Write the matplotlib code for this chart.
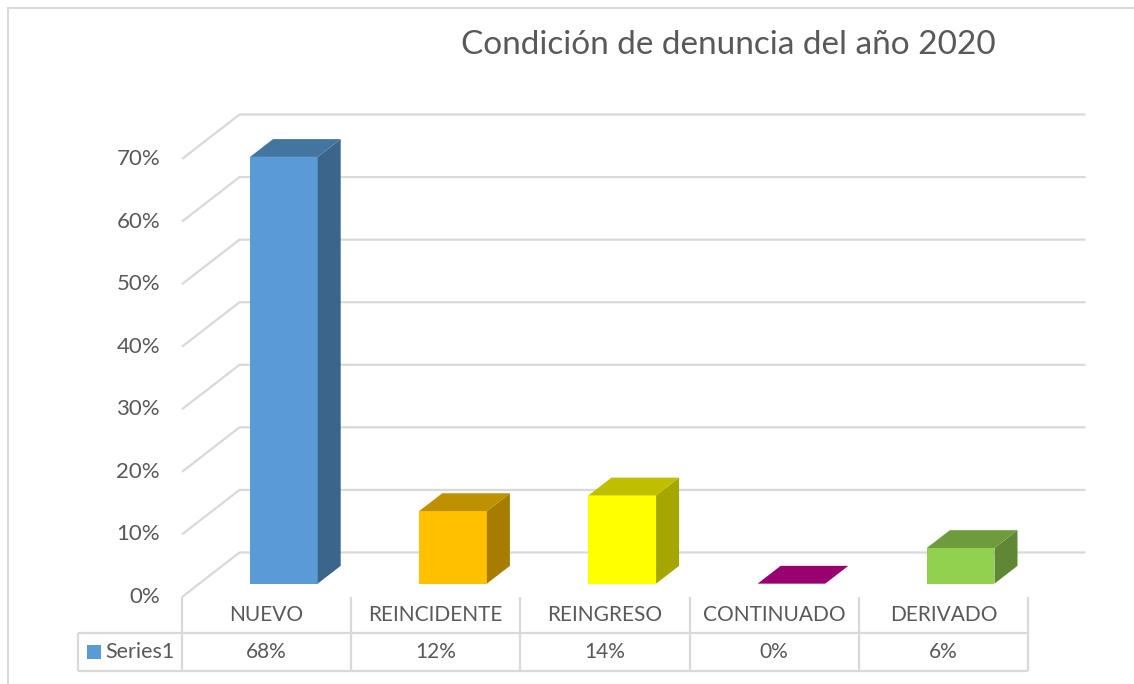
import matplotlib.pyplot as plt
from matplotlib.patches import Polygon, Rectangle
from matplotlib.lines import Line2D
import matplotlib.colors as mcolors

title = "Condición de denuncia del año 2020"
series_name = "Series1"
categories = ["NUEVO", "REINCIDENTE", "REINGRESO", "CONTINUADO", "DERIVADO"]
values = [0.682, 0.116, 0.141, 0.0, 0.057]
bar_colors = ["#5B9BD5", "#FFC000", "#FFFF00", "#CC0095", "#92D050"]
y_ticks = [0.0, 0.1, 0.2, 0.3, 0.4, 0.5, 0.6, 0.7]

plt.rcParams['font.family'] = ['Lato', 'DejaVu Sans']
txt_color = "#595959"
grid_color = "#D9D9D9"

W, H = 1134, 684
fig = plt.figure(figsize=(W / 100, H / 100), dpi=100)
# front plane of the chart: x 182..1028 px, y 597..159 px
ax = fig.add_axes([182 / W, (H - 597) / H, 846 / W, 438 / H])
ax.set_xlim(-0.5, len(categories) - 0.5)
ax.set_ylim(0, 0.7)
ax.axis('off')

px_x = 846 / len(categories)   # px per category
px_y = 438 / 0.7               # px per unit of value
dep_x = 57.5 / px_x            # full depth offset, data units
dep_y = 44.5 / px_y


def shade(c, f):
    r, g, b = mcolors.to_rgb(c)
    return (r * f, g * f, b * f)


# outer chart border (top and left visible)
fig.add_artist(Line2D([8 / W, 1], [1 - 8 / H, 1 - 8 / H], color=grid_color, lw=1.5))
fig.add_artist(Line2D([8 / W, 8 / W], [0, 1 - 8 / H], color=grid_color, lw=1.5))

# gridlines: left wall diagonals + back wall horizontals
x0 = -0.5
x1 = len(categories) - 0.5
for v in y_ticks:
    ax.plot([x0, x0 + dep_x, x1 + dep_x], [v, v + dep_y, v + dep_y],
            color=grid_color, lw=1.6, clip_on=False, zorder=1, solid_capstyle='butt')
    ax.text(x0 - 22 / px_x, v, f"{v:.0%}", ha='right', va='center',
            fontsize=16, color=txt_color)

# 3D-looking columns
bw = 0.40
f0, f1 = 0.3, 0.7   # depth fraction of front/back face
for i, (v, c) in enumerate(zip(values, bar_colors)):
    xl = i - bw / 2 + f0 * dep_x
    xr = i + bw / 2 + f0 * dep_x
    yb = f0 * dep_y
    yt = v + f0 * dep_y
    ddx = (f1 - f0) * dep_x
    ddy = (f1 - f0) * dep_y
    front = [(xl, yb), (xr, yb), (xr, yt), (xl, yt)]
    side = [(xr, yb), (xr + ddx, yb + ddy), (xr + ddx, yt + ddy), (xr, yt)]
    top = [(xl, yt), (xr, yt), (xr + ddx, yt + ddy), (xl + ddx, yt + ddy)]
    if v > 0:
        ax.add_patch(Polygon(front, closed=True, fc=c, ec='none', zorder=3, clip_on=False))
        ax.add_patch(Polygon(side, closed=True, fc=shade(c, 0.65), ec='none', zorder=3, clip_on=False))
    ax.add_patch(Polygon(top, closed=True, fc=shade(c, 0.75), ec='none', zorder=3, clip_on=False))

# data table under the chart
r1 = -36 / px_y
r2 = -74 / px_y
leg_left = x0 - 104 / px_x
tk = dict(color=grid_color, lw=1.6, clip_on=False, zorder=2, solid_capstyle='butt')
for k in range(len(categories) + 1):
    ax.plot([x0 + k, x0 + k], [0, r2], **tk)
ax.plot([leg_left, leg_left], [r1, r2], **tk)
ax.plot([leg_left, x1], [r1, r1], **tk)
ax.plot([leg_left, x1], [r2, r2], **tk)

for i, (cat, v) in enumerate(zip(categories, values)):
    ax.text(i, r1 / 2, cat, ha='center', va='center', fontsize=15, color=txt_color)
    ax.text(i, (r1 + r2) / 2, f"{v:.0%}", ha='center', va='center', fontsize=15, color=txt_color)

ax.add_patch(Rectangle((leg_left + 9 / px_x, (r1 + r2) / 2 - 7 / px_y), 14 / px_x, 14 / px_y,
                       fc=bar_colors[0], ec='none', clip_on=False))
ax.text(leg_left + 27 / px_x, (r1 + r2) / 2, series_name, ha='left', va='center',
        fontsize=15.5, color=txt_color)

fig.text(728 / W, 1 - 45 / H, title, ha='center', va='center', fontsize=24, color=txt_color)

fig.savefig("out.png", dpi=100)
